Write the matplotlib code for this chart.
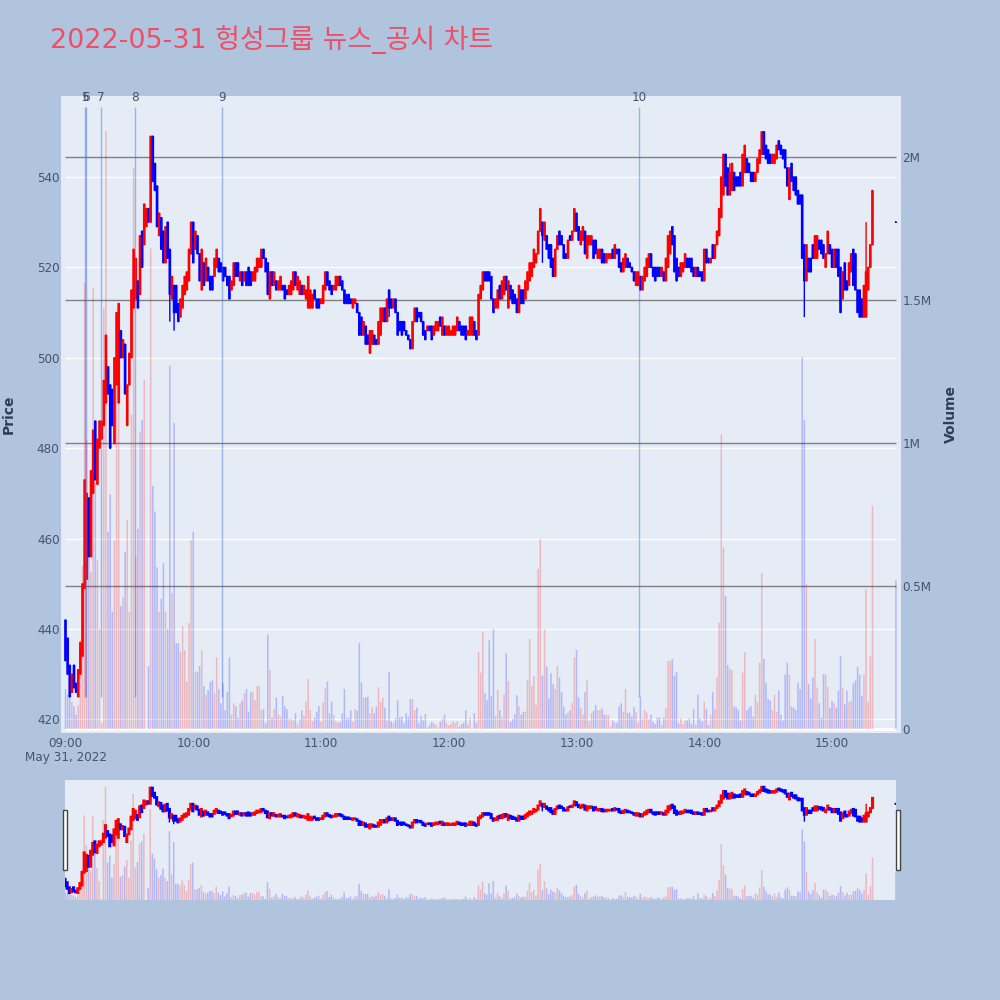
import numpy as np
import matplotlib
matplotlib.use('Agg')
import matplotlib.pyplot as plt
from matplotlib.patches import Rectangle

plt.rcParams['font.family'] = ['DejaVu Sans', 'Noto Sans CJK KR']

# minutes after 09:00, no trades between 15:20 and 15:30
minutes = list(range(380)) + [390]

opens = [442,438,432,426,432,428,425,430,434,449, 451,469,456,470,486,472,480,482,485,490,
         498,494,493,481,494,490,506,500,503,485, 494,500,511,513,517,514,528,525,529,533,
         530,549,543,538,527,531,528,521,530,524, 513,516,516,512,509,511,514,515,517,523,
         530,524,527,523,515,521,517,520,518,518, 518,520,522,521,520,520,518,518,515,516,
         521,521,517,519,517,519,520,519,517,517, 519,520,520,524,522,521,513,519,516,517,
         515,515,516,516,515,514,514,515,519,515, 514,516,514,513,511,511,511,515,513,513,
         512,512,515,519,517,516,515,515,516,518, 517,515,514,514,513,511,512,512,510,509,
         505,507,505,501,503,505,504,503,505,508, 511,508,515,513,511,513,510,508,508,508,
         506,505,504,502,508,511,510,510,508,506, 506,507,507,505,506,506,509,505,507,505,
         505,505,505,505,506,508,507,507,507,505, 505,505,508,506,505,513,515,519,519,519,
         518,513,511,511,516,513,514,518,511,516, 515,514,513,510,515,515,513,515,517,518,
         520,521,523,528,530,526,527,525,525,522, 518,524,528,527,525,523,522,527,526,528,
         532,529,525,526,528,522,525,525,526,526, 522,522,524,523,521,522,522,524,522,524,
         524,521,519,520,522,521,520,519,516,516, 518,515,517,518,520,523,520,520,520,520,
         518,519,517,520,523,529,527,522,520,518, 519,520,522,522,522,520,518,520,519,519,
         517,524,522,521,525,522,525,527,531,536, 545,542,536,537,541,540,540,541,538,541,
         544,543,541,541,539,541,543,545,550,547, 546,545,543,543,544,548,547,546,546,542,
         535,543,540,540,537,536,536,525,517,522, 522,525,522,522,526,526,525,520,523,525,
         524,520,524,524,520,513,521,517,516,519, 524,523,515,515,513,509,509,515,520,525,
         530]
closes = [433,430,425,430,427,426,431,437,450,473, 470,456,475,484,473,482,486,486,495,505,
          492,480,485,500,510,512,500,504,492,494, 501,515,524,522,511,527,520,534,533,530,
          549,539,537,529,532,524,521,529,522,514, 518,510,510,508,513,516,518,519,524,530,
          521,528,523,517,524,516,522,517,515,515, 522,524,519,519,517,518,516,513,517,521,
          518,518,519,516,519,516,516,516,519,520, 522,522,524,522,519,514,519,516,519,515,
          517,518,515,513,514,516,517,519,516,518, 517,514,516,515,518,515,514,513,511,511,
          513,516,519,516,515,514,516,518,518,516, 515,512,512,512,512,513,513,510,505,505,
          508,503,503,506,506,503,503,508,511,511, 508,513,511,511,513,510,505,506,505,506,
          505,504,502,508,511,508,509,508,505,504, 507,506,504,507,508,508,507,509,505,507,
          507,506,507,507,509,506,505,505,504,506, 509,509,505,504,514,516,519,517,517,517,
          513,510,513,515,513,517,518,515,517,513, 512,512,510,516,512,512,517,519,521,521,
          524,523,528,533,527,530,524,522,520,518, 524,527,525,525,522,522,526,526,528,533,
          528,526,528,529,523,527,527,527,522,523, 524,524,521,521,523,523,523,522,525,523,
          520,519,522,523,520,520,519,517,519,519, 515,518,520,522,523,520,518,517,518,518,
          520,517,522,527,528,525,519,517,518,521, 521,523,520,520,519,518,520,518,518,517,
          524,521,521,522,522,525,528,533,540,545, 538,536,541,543,537,538,538,538,545,547,
          541,541,539,539,541,544,546,550,545,544, 543,543,545,545,547,546,545,544,542,538,
          542,539,537,536,534,534,522,517,525,519, 519,522,527,527,524,523,522,523,528,523,
          520,524,520,518,510,519,515,515,521,523, 516,515,510,509,509,516,519,520,525,537,
          530]
# candles with a long thin wick: minute -> (high, low)
wicks = {49: (524, 508), 51: (516, 506), 114: (518, 511), 152: (515, 509), 224: (530, 521),
         312: (543, 536), 347: (525, 509), 376: (530, 509), 340: (542, 535)}

# volume in millions
volumes = [.14,.12,.11,.095,.08,.05,.084,.31,.57,1.56, 1.01,.61,.55,1.54,.86,.59,.35,.02,1.47,2.09,
           .69,.82,.41,.66,1.22,1.47,.43,.46,.62,.73, .41,1.1,1.96,.6,.7,1.04,1.08,1.22,0,.22,
           1.68,.85,.76,.565,.41,.455,.58,.41,.35,1.27, .475,1.07,.3,.3,.27,.36,.276,.165,.37,.66,
           .69,.2,.2,.22,.276,.15,.12,.136,.165,.17, .125,.25,.14,.09,.16,.066,.13,.25,.05,.09,
           .08,.04,.09,.1,.125,.14,.06,.13,.13,.1, .15,.15,.066,.07,.02,.33,.206,.04,.07,.11,
           .05,.043,.115,.08,.07,.036,.036,.03,.055,.016, .035,.066,.046,.095,.174,.066,.027,.04,.06,.08,
           .025,.093,.142,.166,.055,.095,.05,.027,.023,.023, .055,.14,.037,.04,.066,.025,.07,.064,.3,.163,
           .11,.11,.113,.055,.076,.055,.078,.146,.095,.11, .075,.03,.2,.027,.02,.037,.1,.04,.043,.02,
           .055,.043,.105,.105,.066,.075,.02,.046,.03,.052, .006,.013,.025,.02,.015,.006,.025,.036,.05,.02,
           .014,.017,.027,.02,.027,.008,.017,.022,.066,.016, .04,.002,.055,.022,.27,.197,.34,.125,.1,.31,
           .115,.35,.046,.136,.066,.04,.12,.265,.168,.025, .035,.052,.118,.08,.05,.06,.06,.171,.315,.15,
           .185,.084,.56,.664,.187,.35,.218,.107,.195,.157, .14,.22,.18,.128,.078,.05,.057,.066,.09,.25,
           .276,.11,.075,.05,.128,.17,.028,.055,.063,.084, .066,.066,.072,.05,.05,.048,.008,.03,.022,.022,
           .078,.09,.06,.14,.057,.057,.043,.076,.06,.022, .113,.037,.066,.057,.034,.05,.026,.017,.04,.04,
           .014,.04,.072,.238,.238,.244,.186,.2,.02,.037, .017,.03,.03,.037,.017,.07,.014,.12,.037,.026,
           .095,.07,.014,.05,.128,.07,.18,.372,1.03,.635, .465,.224,.21,.206,.078,.076,.066,.03,.197,.268,
           .066,.075,.08,.043,.12,.095,.232,.546,.245,.162, .105,.1,.066,.12,.06,.134,.05,.03,.19,.232,
           .19,.078,.075,.066,.162,.14,1.3,1.08,.507,.157, .107,.18,.315,.145,.09,.04,.192,.19,.146,.075,
           .098,.09,.075,.134,.255,.145,.086,.134,.095,.098, .16,.17,.218,.19,.117,.192,.488,.095,.255,.78,
           .52]

# news markers at the top of the chart
news_labels = ['5', '6', '7', '8', '9', '10']
news_minutes = [9.1, 9.6, 16.5, 32.6, 73.6, 269.3]

price_ticks = [420, 440, 460, 480, 500, 520, 540]
volume_ticks = [0, 0.5, 1, 1.5, 2]
volume_tick_labels = ['0', '0.5M', '1M', '1.5M', '2M']
time_ticks = [0, 60, 120, 180, 240, 300, 360]
time_labels = ['09:00', '10:00', '11:00', '12:00', '13:00', '14:00', '15:00']

bg = '#b0c4de'
plot_bg = '#e5ecf6'
tick_col = '#44546f'
title_col = '#2a3f5f'

W, H = 1000, 1000


def box(x0, y0, x1, y1):
    return [x0 / W, 1 - y1 / H, (x1 - x0) / W, (y1 - y0) / H]


def draw_candles(ax, edge):
    for m, o, c in zip(minutes, opens, closes):
        col = 'red' if c > o else 'blue'
        ax.bar(m, max(abs(c - o), 0.01), bottom=min(o, c), width=0.6, color=col,
               edgecolor=col, linewidth=edge, zorder=3, snap=False)
        if m in wicks:
            ax.vlines(m, wicks[m][1], wicks[m][0], color=col, linewidth=1, zorder=3, snap=False)


def draw_volume(ax):
    for m, o, c, v in zip(minutes, opens, closes, volumes):
        col = 'red' if c > o else 'blue'
        ax.bar(m, v, width=0.72, color=col, alpha=0.22, linewidth=0, zorder=4, snap=False)


fig = plt.figure(figsize=(10, 10), dpi=100, facecolor=bg)

# grid layer
grid = fig.add_axes(box(61, 96, 901, 733), facecolor=plot_bg, zorder=1)
grid.set_xlim(-2.11, 392.4)
grid.set_ylim(-0.014, 2.213)
grid.set_axis_off()
grid.add_patch(Rectangle((0, 0), 1, 1, transform=grid.transAxes, facecolor=plot_bg, linewidth=0))
grid.hlines(volume_ticks[1:], 0, 390, color='#808080', linewidth=1, zorder=2)
grid.hlines(0, 0, 390, color='white', linewidth=2, zorder=2)

# price candles
ax = fig.add_axes(box(61, 96, 901, 733), zorder=2)
ax.patch.set_alpha(0)
ax.set_xlim(-2.11, 392.4)
ax.set_ylim(417.0, 557.9)
ax.hlines(price_ticks, 0, 390, color='white', linewidth=1, zorder=1)
draw_candles(ax, 1.0)
for m in news_minutes:
    ax.vlines(m, 425, 555.5, color='royalblue', alpha=0.45, linewidth=1, zorder=5)
for m, lab in zip(news_minutes, news_labels):
    ax.text(m, 557.6, lab, ha='center', va='center', fontsize=8.64, color=tick_col, clip_on=False, zorder=6)
for s in ax.spines.values():
    s.set_visible(False)
ax.set_yticks(price_ticks)
ax.set_xticks(time_ticks, time_labels)
ax.tick_params(axis='both', length=0, labelsize=8.64, labelcolor=tick_col, pad=1)
ax.tick_params(axis='x', pad=3)

# volume bars
vol = fig.add_axes(box(61, 96, 901, 733), zorder=3)
vol.patch.set_alpha(0)
vol.set_xlim(-2.11, 392.4)
vol.set_ylim(-0.014, 2.213)
draw_volume(vol)
vol.xaxis.set_visible(False)
vol.yaxis.tick_right()
vol.set_yticks(volume_ticks, volume_tick_labels)
vol.tick_params(axis='y', length=0, labelsize=8.64, labelcolor=tick_col, pad=1)
for s in vol.spines.values():
    s.set_visible(False)

fig.text(50 / W, 1 - 40 / H, '2022-05-31 헝성그룹 뉴스_공시 차트', fontsize=19.4, color='#ee4f68', va='center', ha='left')
fig.text(9 / W, 1 - 414 / H, 'Price', rotation=90, fontsize=10, fontweight='bold', color=title_col, va='center', ha='center')
fig.text(951 / W, 1 - 414 / H, 'Volume', rotation=90, fontsize=10, fontweight='bold', color=title_col, va='center', ha='center')
fig.text(25 / W, 1 - 758 / H, 'May 31, 2022', fontsize=8.64, color=tick_col, va='center', ha='left')

# range slider
sl = fig.add_axes(box(65, 780, 896, 900), facecolor=plot_bg, zorder=1)
sl.set_xlim(0, 390)
sl.set_ylim(417.0, 557.9)
sl.set_xticks([])
sl.set_yticks([])
for s in sl.spines.values():
    s.set_visible(False)
draw_candles(sl, 1.3)
sl2 = fig.add_axes(box(65, 780, 896, 900), zorder=2)
sl2.patch.set_alpha(0)
sl2.set_xlim(0, 390)
sl2.set_ylim(0, 2.213)
sl2.set_axis_off()
draw_volume(sl2)

for x0 in (62.5, 895.5):
    fig.add_artist(Rectangle((x0 / W, 1 - 870 / H), 4 / W, 60 / H, transform=fig.transFigure,
                             facecolor='white', edgecolor='#444444', linewidth=1, zorder=6))

fig.savefig('out.png', dpi=100, facecolor=bg)
